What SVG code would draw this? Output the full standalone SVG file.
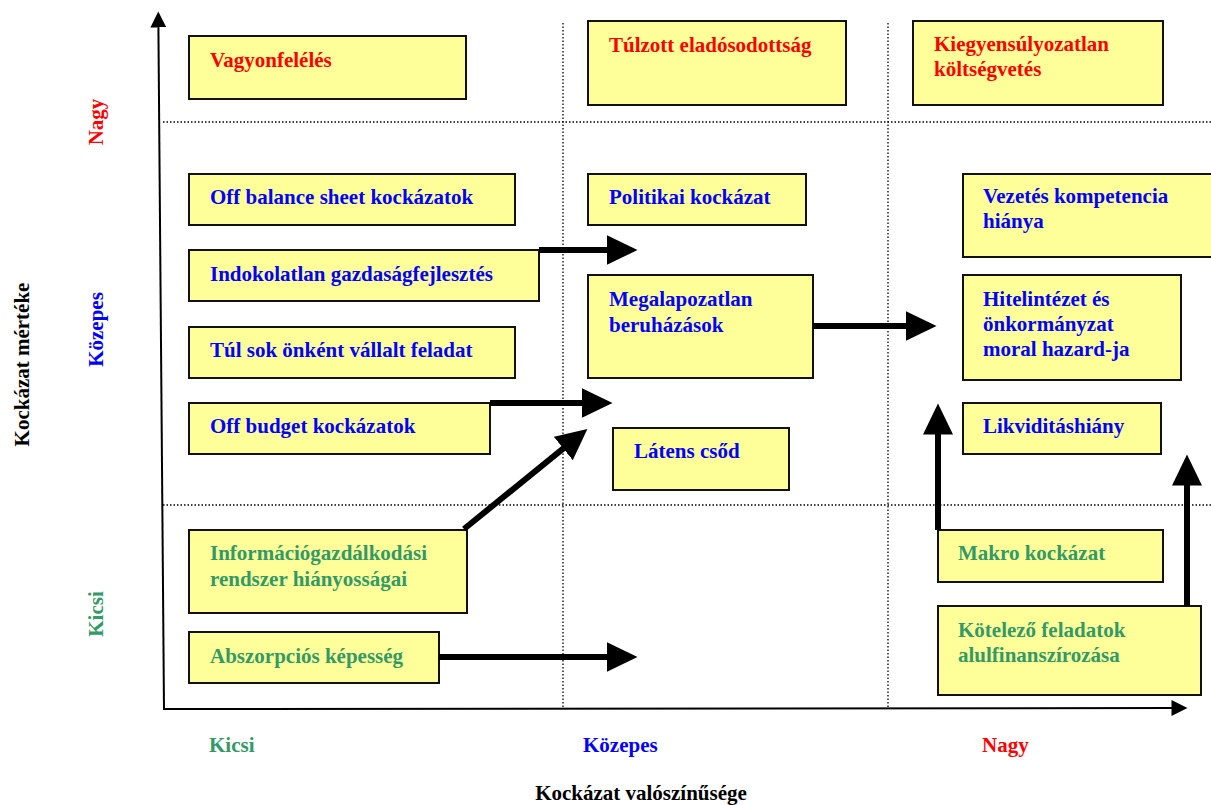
<svg xmlns="http://www.w3.org/2000/svg" width="1211" height="805" viewBox="0 0 1211 805">
<style>
  .box { fill: #FFFF99; stroke: #111; stroke-width: 2; }
  .t { font-family: "Liberation Serif", "Times New Roman", serif; font-weight: bold; font-size: 21px; }
  .red { fill: #FF0000; }
  .blue { fill: #0000FF; }
  .green { fill: #339966; }
  .blk { fill: #000; }
  .dot { stroke: #000; stroke-width: 1.3; stroke-dasharray: 1.5 2; fill: none; }
  .axis { stroke: #000; stroke-width: 2; fill: none; }
  .arr { stroke: #000; stroke-width: 6; fill: none; }
</style>
<defs>
  <marker id="ah" markerUnits="userSpaceOnUse" markerWidth="34" markerHeight="32" viewBox="0 -16 34 32" refX="0.5" refY="0" orient="auto">
    <path d="M0,-15 L31,0 L0,15 z" fill="#000"/>
  </marker>
  <marker id="axh" markerUnits="userSpaceOnUse" markerWidth="18" markerHeight="18" viewBox="0 -9 18 18" refX="0.5" refY="0" orient="auto">
    <path d="M0,-8 L16,0 L0,8 z" fill="#000"/>
  </marker>
</defs>
<rect width="1211" height="805" fill="#fff"/>

<g id="grid">
  <line class="dot" x1="163" y1="122" x2="1211" y2="122"/>
  <line class="dot" x1="163" y1="505" x2="1211" y2="505"/>
  <line class="dot" x1="563" y1="23" x2="563" y2="709"/>
  <line class="dot" x1="888" y1="23" x2="888" y2="709"/>
</g>

<g id="axes">
  <line class="axis" x1="164" y1="709" x2="158.4" y2="27" marker-end="url(#axh)"/>
  <line class="axis" x1="163" y1="709" x2="1172" y2="708" marker-end="url(#axh)"/>
</g>

<g id="axis-labels" class="t">
  <text class="blk" transform="translate(29,364.5) rotate(-90)" text-anchor="middle">Kockázat mértéke</text>
  <text class="red" transform="translate(103,122) rotate(-90)" text-anchor="middle">Nagy</text>
  <text class="blue" transform="translate(103,329.5) rotate(-90)" text-anchor="middle">Közepes</text>
  <text class="green" transform="translate(103,614) rotate(-90)" text-anchor="middle">Kicsi</text>
  <text class="green" x="209" y="752">Kicsi</text>
  <text class="blue" x="583" y="752">Közepes</text>
  <text class="red" x="982" y="752">Nagy</text>
  <text class="blk" x="641" y="800" text-anchor="middle">Kockázat valószínűsége</text>
</g>

<g id="n-vagyonfeleles">
  <rect class="box" x="189" y="36" width="277" height="63"/>
  <text class="t red" x="210" y="67">Vagyonfelélés</text>
</g>
<g id="n-tulzott">
  <rect class="box" x="588" y="21" width="258" height="84"/>
  <text class="t red" x="609" y="52">Túlzott eladósodottság</text>
</g>
<g id="n-kiegyensulyozatlan">
  <rect class="box" x="913" y="21" width="250" height="84"/>
  <text class="t red" x="934" y="51">Kiegyensúlyozatlan<tspan x="934" dy="25">költségvetés</tspan></text>
</g>
<g id="n-offbalance">
  <rect class="box" x="189" y="174" width="326" height="51"/>
  <text class="t blue" x="210" y="204">Off balance sheet kockázatok</text>
</g>
<g id="n-indokolatlan">
  <rect class="box" x="189" y="250" width="350" height="51"/>
  <text class="t blue" x="210" y="281">Indokolatlan gazdaságfejlesztés</text>
</g>
<g id="n-tulsok">
  <rect class="box" x="189" y="327" width="326" height="51"/>
  <text class="t blue" x="210" y="357">Túl sok önként vállalt feladat</text>
</g>
<g id="n-offbudget">
  <rect class="box" x="189" y="403" width="301" height="51"/>
  <text class="t blue" x="210" y="433">Off budget kockázatok</text>
</g>
<g id="n-informacio">
  <rect class="box" x="189" y="530" width="278" height="83"/>
  <text class="t green" x="210" y="560">Információgazdálkodási<tspan x="210" dy="26">rendszer hiányosságai</tspan></text>
</g>
<g id="n-abszorpcio">
  <rect class="box" x="189" y="632" width="250" height="51"/>
  <text class="t green" x="210" y="663">Abszorpciós képesség</text>
</g>
<g id="n-politikai">
  <rect class="box" x="588" y="174" width="218" height="51"/>
  <text class="t blue" x="609" y="204">Politikai kockázat</text>
</g>
<g id="n-megalapozatlan">
  <rect class="box" x="588" y="275" width="225" height="103"/>
  <text class="t blue" x="609" y="306">Megalapozatlan<tspan x="609" dy="26">beruházások</tspan></text>
</g>
<g id="n-latens">
  <rect class="box" x="613" y="428" width="176" height="62"/>
  <text class="t blue" x="634" y="458">Látens csőd</text>
</g>
<g id="n-vezetes">
  <rect class="box" x="963" y="174" width="260" height="83"/>
  <text class="t blue" x="983" y="203">Vezetés kompetencia<tspan x="983" dy="25">hiánya</tspan></text>
</g>
<g id="n-hitelintezet">
  <rect class="box" x="963" y="275" width="218" height="105"/>
  <text class="t blue" x="983" y="306">Hitelintézet és<tspan x="983" dy="25">önkormányzat</tspan><tspan x="983" dy="25">moral hazard-ja</tspan></text>
</g>
<g id="n-likviditas">
  <rect class="box" x="963" y="403" width="198" height="51"/>
  <text class="t blue" x="983" y="433">Likviditáshiány</text>
</g>
<g id="n-makro">
  <rect class="box" x="938" y="530" width="225" height="52"/>
  <text class="t green" x="958" y="560">Makro kockázat</text>
</g>
<g id="n-kotelezo">
  <rect class="box" x="938" y="606" width="263" height="89"/>
  <text class="t green" x="958" y="637">Kötelező feladatok<tspan x="958" dy="25">alulfinanszírozása</tspan></text>
</g>

<g id="connectors">
  <line class="arr" x1="539" y1="250" x2="607" y2="250" marker-end="url(#ah)"/>
  <line class="arr" x1="813" y1="326" x2="906" y2="326" marker-end="url(#ah)"/>
  <line class="arr" x1="490" y1="403" x2="582" y2="403" marker-end="url(#ah)"/>
  <line class="arr" x1="464" y1="529" x2="563.7" y2="448.2" marker-end="url(#ah)"/>
  <line class="arr" x1="439" y1="657" x2="607" y2="657" marker-end="url(#ah)"/>
  <line class="arr" x1="938" y1="530" x2="938" y2="434" marker-end="url(#ah)"/>
  <line class="arr" x1="1187" y1="606" x2="1187" y2="485" marker-end="url(#ah)"/>
</g>
</svg>
